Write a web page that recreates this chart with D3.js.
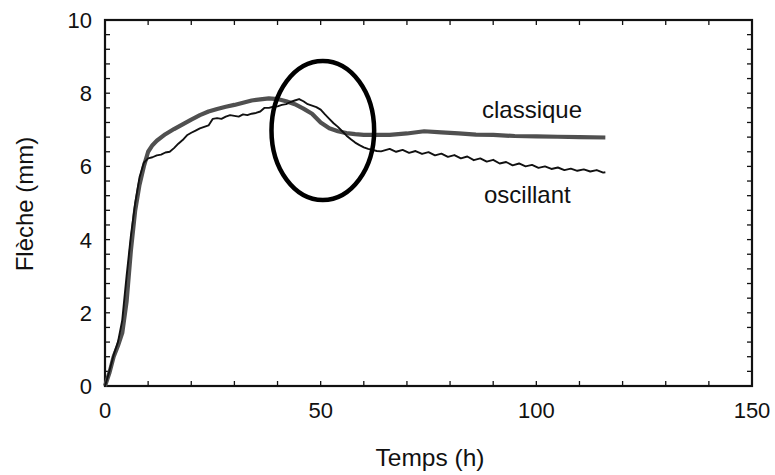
<!DOCTYPE html>
<html><head><meta charset="utf-8">
<script src="https://cdn.jsdelivr.net/npm/d3@7"></script>
<style>body{margin:0;background:#fff}svg{display:block}text{font-family:"Liberation Sans",Arial,sans-serif;fill:#111}</style>
</head><body><svg id="c" width="775" height="475"></svg>
<script>
const xTickLabels = [0, 50, 100, 150];
const yTickLabels = [0, 2, 4, 6, 8, 10];
const seriesNames = ["classique", "oscillant"];
const classiqueT = [0,1,2,3,4,5,6,7,8,9,10,11,12,14,16,18,20,22,24,26,28,30,32,34,36,38,40,42,44,46,48,50,52,54,56,58,60,63,66,70,74,78,82,86,90,95,100,105,110,116];
const classiqueV = [0,0.35,0.8,1.1,1.45,2.3,3.7,4.8,5.5,6.0,6.4,6.58,6.7,6.88,7.02,7.15,7.28,7.4,7.5,7.57,7.63,7.68,7.74,7.8,7.83,7.86,7.84,7.78,7.7,7.58,7.44,7.2,7.04,6.96,6.91,6.88,6.86,6.86,6.86,6.9,6.96,6.93,6.9,6.87,6.86,6.83,6.82,6.81,6.8,6.79];
const oscillantT = [0,1,2,3,4,5,6,7,8,9,10,11,12,13,14,15,16,17,18,19,20,21,22,23,24,25,26,27,28,29,30,31,32,33,34,35,36,37,38,39,40,41,42,43,44,45,46,47,48,49,50,51,52,53,54,55,56,57,58,59,60,61,62,63,64,66,67.5,69,70.5,72,73.5,75,76.5,78,79.5,81,82.5,84,85.5,87,88.5,90,91.5,93,94.5,96,97.5,99,100.5,102,103.5,105,106.5,108,109.5,111,112.5,114,115.5,116];
const oscillantV = [0,0.4,0.85,1.2,1.8,3.0,4.1,5.0,5.7,6.1,6.22,6.25,6.3,6.32,6.38,6.4,6.5,6.62,6.72,6.85,6.92,6.98,7.04,7.08,7.12,7.3,7.32,7.3,7.36,7.4,7.38,7.36,7.42,7.4,7.44,7.46,7.5,7.6,7.6,7.63,7.64,7.68,7.7,7.76,7.8,7.84,7.78,7.7,7.66,7.62,7.55,7.42,7.3,7.18,7.08,6.96,6.84,6.74,6.65,6.58,6.52,6.48,6.45,6.42,6.41,6.48,6.4,6.45,6.37,6.42,6.34,6.39,6.3,6.35,6.26,6.31,6.22,6.27,6.17,6.22,6.13,6.18,6.08,6.12,6.03,6.08,6.0,6.04,5.96,6.0,5.93,5.97,5.9,5.94,5.88,5.92,5.86,5.9,5.83,5.84];
const ellipseCenter = [50.5, 6.98]; // data units
const ellipseRadii = [11.9, 1.9];

const svg = d3.select("#c");
const L = 105, R = 752, T = 20, B = 386;
const x = d3.scaleLinear().domain([0,150]).range([L,R]);
const y = d3.scaleLinear().domain([0,10]).range([B,T]);

const minorX = d3.range(0,151,10);
const minorY = d3.range(0,10.01,0.4).concat([10]);
const tk = svg.append("g").attr("stroke","#111").attr("stroke-width",1.3);
minorX.forEach(v=>{
  tk.append("line").attr("x1",x(v)).attr("x2",x(v)).attr("y1",B).attr("y2",B-5);
  tk.append("line").attr("x1",x(v)).attr("x2",x(v)).attr("y1",T).attr("y2",T+5);
});
minorY.forEach(v=>{
  tk.append("line").attr("x1",L).attr("x2",L+5).attr("y1",y(v)).attr("y2",y(v));
  tk.append("line").attr("x1",R).attr("x2",R-5).attr("y1",y(v)).attr("y2",y(v));
});
svg.append("rect").attr("x",L).attr("y",T).attr("width",R-L).attr("height",B-T)
  .attr("fill","none").attr("stroke","#111").attr("stroke-width",2.2);

svg.append("g").selectAll("text").data(xTickLabels).join("text")
  .attr("x",d=>x(d)).attr("y",418).attr("text-anchor","middle").attr("font-size",22).text(d=>d);
svg.append("g").selectAll("text").data(yTickLabels).join("text")
  .attr("x",92).attr("y",d=>y(d)+8).attr("text-anchor","end").attr("font-size",22).text(d=>d);

svg.append("text").attr("x",430).attr("y",466).attr("text-anchor","middle").attr("font-size",24.5).text("Temps (h)");
svg.append("text").attr("transform","translate(33,204) rotate(-90)").attr("text-anchor","middle").attr("font-size",24).text("Flèche (mm)");

const line = d3.line().x(d=>x(d[0])).y(d=>y(d[1])).curve(d3.curveLinear);
const cData = classiqueT.map((t,i)=>[t,classiqueV[i]]);
const oData = oscillantT.map((t,i)=>[t,oscillantV[i]]);
svg.append("path").attr("d",line(cData)).attr("fill","none").attr("stroke","#505050").attr("stroke-width",4.2).attr("stroke-linejoin","round");
svg.append("path").attr("d",line(oData)).attr("fill","none").attr("stroke","#111").attr("stroke-width",1.9).attr("stroke-linejoin","round");

svg.append("ellipse").attr("cx",x(ellipseCenter[0])).attr("cy",y(ellipseCenter[1]))
  .attr("rx",x(ellipseRadii[0])-x(0)).attr("ry",y(0)-y(ellipseRadii[1]))
  .attr("fill","none").attr("stroke","#000").attr("stroke-width",4.5);

svg.append("text").attr("x",482).attr("y",118).attr("font-size",24).text(seriesNames[0]);
svg.append("text").attr("x",484).attr("y",203).attr("font-size",24).text(seriesNames[1]);
</script></body></html>
